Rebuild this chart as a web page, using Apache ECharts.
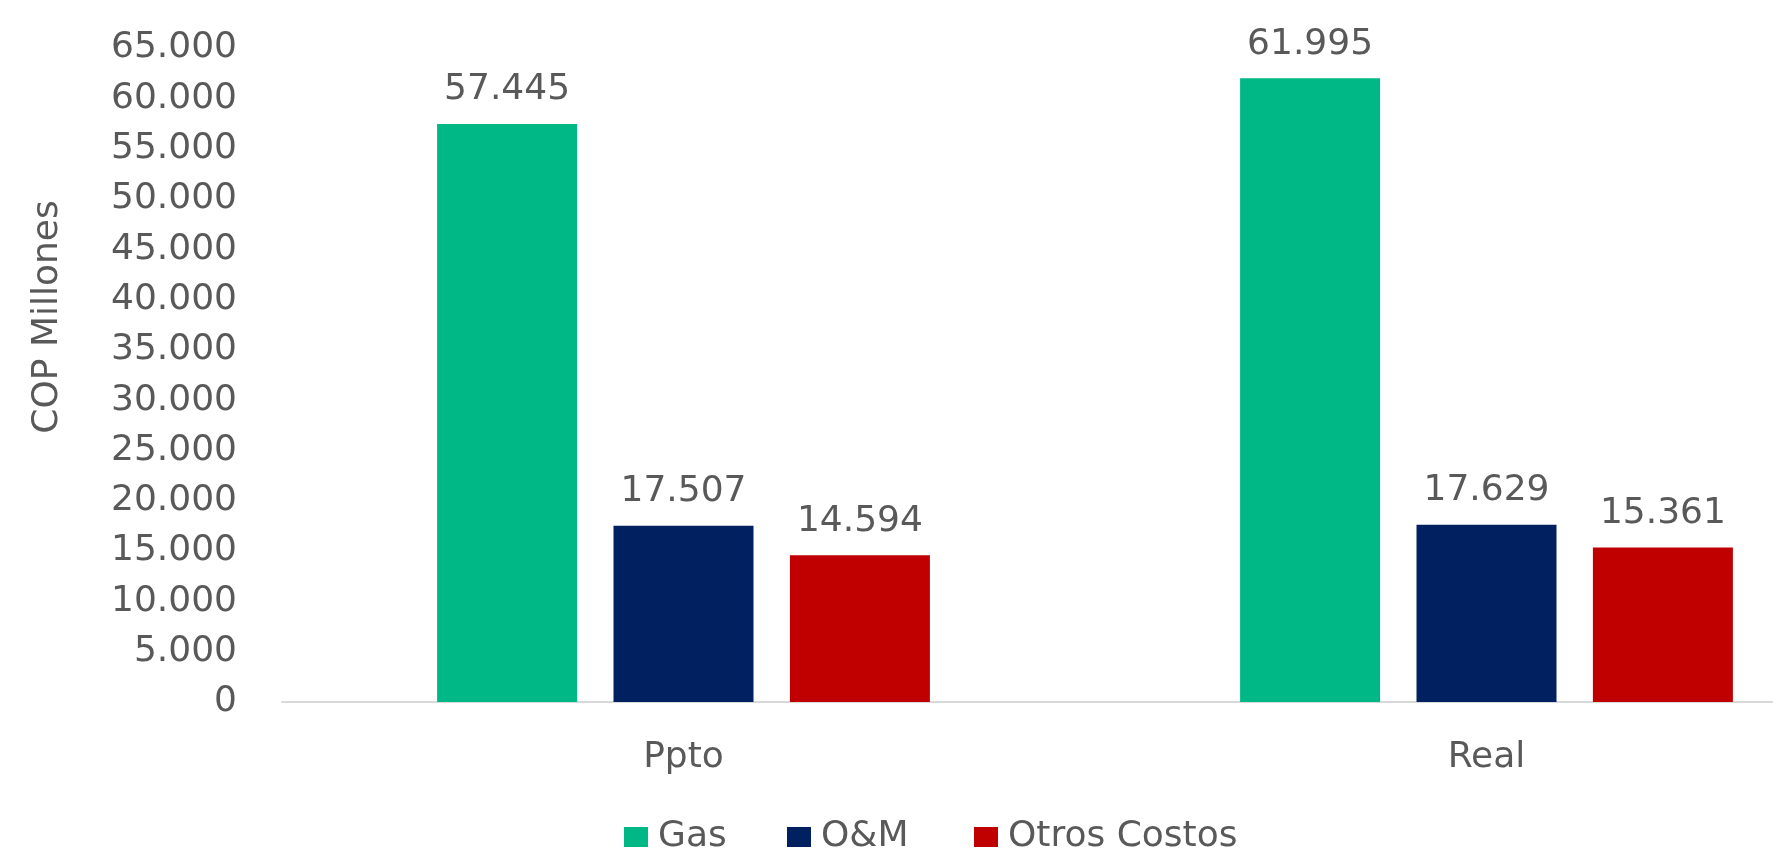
<!DOCTYPE html>
<html>
<head>
<meta charset="utf-8">
<title>Costos Ppto vs Real</title>
<script src="https://cdn.jsdelivr.net/npm/echarts@6/dist/echarts.min.js"></script>
<style>
  html, body { margin: 0; padding: 0; background: #fff; }
  #chart { width: 1773px; height: 850px; }
</style>
</head>
<body>
<div id="chart"></div>
<script>
// datos
const categories = ['Ppto', 'Real'];
const gas = [57445, 61995];
const oym = [17507, 17629];
const otros = [14594, 15361];
const seriesNames = ['Gas', 'O&M', 'Otros Costos'];

const textColor = '#595959';
const font = 'DejaVu Sans';

// separador de miles con punto
function fmt(v) {
  return String(Math.round(v)).replace(/\B(?=(\d{3})+(?!\d))/g, '.');
}

function barSeries(name, data, color) {
  return {
    name: name,
    type: 'bar',
    data: data,
    barWidth: 140,
    barGap: '26%',
    itemStyle: { color: color },
    label: {
      show: true,
      position: 'top',
      distance: 16,
      color: textColor,
      fontFamily: font,
      fontSize: 36,
      formatter: p => fmt(p.value)
    }
  };
}

// una leyenda por serie para respetar el espaciado del original
const legendLefts = [624, 787, 974];
function legendItem(name, i) {
  return {
    data: [name],
    left: legendLefts[i],
    top: 819,
    padding: 0,
    itemWidth: 24,
    itemHeight: 20,
    icon: 'rect',
    textStyle: { color: textColor, fontSize: 36, fontFamily: font, padding: [0, 0, 0, 5] }
  };
}

const chart = echarts.init(document.getElementById('chart'));
chart.setOption({
  animation: false,
  textStyle: { fontFamily: font },
  // el area de trazado sigue mas alla del borde derecho (recortada en el original)
  grid: { left: 282, right: -115, top: 48, bottom: 148, outerBoundsMode: 'none' },
  legend: seriesNames.map(legendItem),
  xAxis: {
    type: 'category',
    data: categories,
    axisTick: { show: false },
    axisLine: { lineStyle: { color: '#D9D9D9', width: 2 } },
    axisLabel: { color: textColor, fontSize: 36, margin: 38, fontFamily: font }
  },
  yAxis: {
    type: 'value',
    min: 0,
    max: 65000,
    interval: 5000,
    name: 'COP Millones',
    nameLocation: 'middle',
    nameGap: 216,
    nameTextStyle: { color: textColor, fontSize: 36, fontFamily: font, padding: [0, 0, 0, 116] },
    splitLine: { show: false },
    axisLine: { show: false },
    axisTick: { show: false },
    axisLabel: {
      color: textColor, fontSize: 36, margin: 45, fontFamily: font,
      formatter: v => fmt(v)
    }
  },
  series: [
    barSeries(seriesNames[0], gas, '#00B886'),
    barSeries(seriesNames[1], oym, '#002060'),
    barSeries(seriesNames[2], otros, '#C00000')
  ]
});
</script>
</body>
</html>
